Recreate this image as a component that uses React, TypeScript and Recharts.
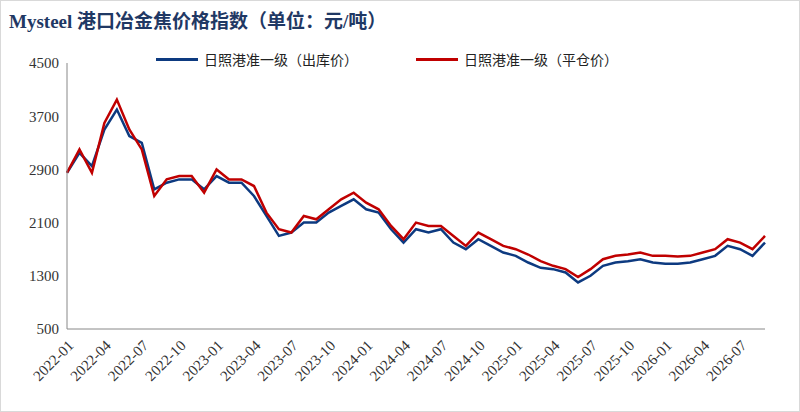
import { LineChart, Line, XAxis, YAxis } from 'recharts';

const months: string[] = [];
for (let y = 2022; y <= 2026; y++) {
  for (let m = 1; m <= 12; m++) {
    if (y === 2026 && m > 9) break;
    months.push(`${y}-${String(m).padStart(2, '0')}`);
  }
}

const outbound = [
  2850, 3150, 2950, 3500, 3800, 3400, 3300, 2600, 2700, 2750, 2750, 2600,
  2800, 2700, 2700, 2500, 2200, 1900, 1950, 2100, 2100, 2250, 2350, 2450,
  2300, 2250, 2000, 1800, 2000, 1950, 2000, 1800, 1700, 1850, 1750, 1650,
  1600, 1500, 1420, 1400, 1350, 1200, 1300, 1450, 1500, 1520, 1550, 1500,
  1480, 1480, 1500, 1550, 1600, 1750, 1700, 1600, 1800,
];

const flatPosition = [
  2850, 3200, 2850, 3600, 3950, 3500, 3200, 2500, 2750, 2800, 2800, 2550,
  2900, 2750, 2750, 2650, 2250, 2000, 1950, 2200, 2150, 2300, 2450, 2550,
  2400, 2300, 2050, 1850, 2100, 2050, 2050, 1900, 1750, 1950, 1850, 1750,
  1700, 1620, 1520, 1450, 1400, 1280, 1400, 1550, 1600, 1620, 1650, 1600,
  1600, 1590, 1600, 1650, 1700, 1850, 1800, 1700, 1900,
];

const yTicks = [500, 1300, 2100, 2900, 3700, 4500];

const data = months.map((d, i) => ({ d, a: outbound[i], b: flatPosition[i] }));

const serif = '"Liberation Serif", "Noto Sans CJK SC", serif';

export default function App() {
  return (
    <div style={{ position: 'absolute', left: 0, top: 0, width: 800, height: 412, background: '#fff', boxSizing: 'border-box', border: '1px solid #d9d9d9', fontFamily: serif }}>
      <div style={{ position: 'absolute', left: 8, top: 5, fontSize: 19, fontWeight: 'bold', color: '#1f3864', fontFamily: serif }}>
        Mysteel 港口冶金焦价格指数（单位：元/吨）
      </div>
      <div style={{ position: 'absolute', left: 155, top: 48, display: 'flex', alignItems: 'center', fontSize: 14, fontFamily: '"Noto Sans CJK SC", sans-serif', color: '#222' }}>
        <span style={{ width: 42, height: 3, background: '#0d3a80', marginRight: 6 }} />
        <span>日照港准一级（出库价）</span>
        <span style={{ width: 42, height: 3, background: '#c00000', marginLeft: 58, marginRight: 6 }} />
        <span>日照港准一级（平仓价）</span>
      </div>
      <LineChart width={800} height={412} data={data} margin={{ top: 62, right: 36, bottom: 4, left: 0 }} style={{ position: 'absolute', left: 0, top: 0 }}>
        <XAxis dataKey="d" height={80} interval={2} angle={-45} textAnchor="end" tickLine={false} stroke="#888" tick={{ fontSize: 15, fill: '#333', fontFamily: serif }} dy={2} />
        <YAxis width={66} domain={[500, 4500]} ticks={yTicks} tickLine={false} stroke="#888" tick={{ fontSize: 15, fill: '#333', fontFamily: serif }} />
        <Line dataKey="a" stroke="#0d3a80" strokeWidth={2.5} dot={false} isAnimationActive={false} />
        <Line dataKey="b" stroke="#c00000" strokeWidth={2.5} dot={false} isAnimationActive={false} />
      </LineChart>
    </div>
  );
}
